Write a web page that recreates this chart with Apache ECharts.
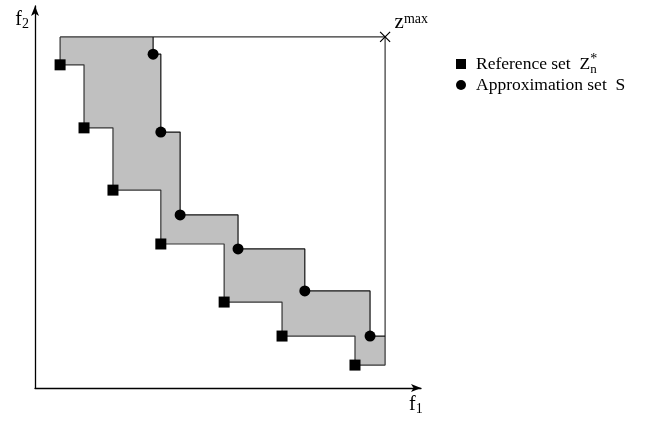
<!DOCTYPE html>
<html><head><meta charset="utf-8">
<script src="https://cdn.jsdelivr.net/npm/echarts@6/dist/echarts.min.js"></script>
<style>html,body{margin:0;padding:0;background:#fff}#c{width:662px;height:423px}</style>
</head><body><div id="c"></div>
<script>
// Reference set Z*_n (f1, f2)
var refX = [0.65, 1.27, 2.02, 3.26, 4.90, 6.40, 8.29];
var refY = [8.46, 6.81, 5.18, 3.77, 2.25, 1.36, 0.60];
// Approximation set S (f1, f2)
var appX = [3.06, 3.26, 3.76, 5.26, 6.99, 8.68];
var appY = [8.74, 6.70, 4.53, 3.64, 2.54, 1.36];
// z max point
var zMax = [9.07, 9.19];

var refPts = refX.map(function (x, i) { return [x, refY[i]]; });
var appPts = appX.map(function (x, i) { return [x, appY[i]]; });

// staircase polylines (step 'end': horizontal first)
var refLine = [[refX[0], zMax[1]]].concat(refPts, [[zMax[0], refY[refY.length - 1]], [zMax[0], zMax[1]], [refX[0], zMax[1]]]);
var appLine = [[appX[0], zMax[1]]].concat(appPts, [[zMax[0], appY[appY.length - 1]]]);

// shaded polygon between both staircases
function stepPts(pts) {
  var out = [];
  for (var i = 0; i < pts.length; i++) {
    if (i > 0) out.push([pts[i][0], pts[i - 1][1]]);
    out.push(pts[i]);
  }
  return out;
}
var lowerB = stepPts(refLine.slice(0, refPts.length + 2));
var upperB = stepPts(appLine).reverse();
var poly = lowerB.concat([[zMax[0], appY[appY.length - 1]]], upperB);

var FONT = 'Liberation Serif';
var chart = echarts.init(document.getElementById('c'), null, {renderer: 'canvas'});
chart.setOption({
  animation: false,
  grid: {left: 35, top: 6, width: 386, height: 382},
  xAxis: {
    type: 'value', min: 0, max: 10,
    axisLine: {lineStyle: {color: '#000', width: 1.3}, symbol: ['none', 'arrow'], symbolSize: [6, 10]},
    axisTick: {show: false}, axisLabel: {show: false}, splitLine: {show: false},
    name: '{m|f}{s|1}', nameLocation: 'end', nameGap: -12,
    nameTextStyle: {align: 'left', verticalAlign: 'top', padding: [6, 0, 0, 0],
      rich: {m: {fontFamily: FONT, fontSize: 20, color: '#000'}, s: {fontFamily: FONT, fontSize: 14, color: '#000', verticalAlign: 'bottom', padding: [8, 0, 0, 0]}}}
  },
  yAxis: {
    type: 'value', min: 0, max: 10,
    axisLine: {lineStyle: {color: '#000', width: 1.3}, symbol: ['none', 'arrow'], symbolSize: [6, 10]},
    axisTick: {show: false}, axisLabel: {show: false}, splitLine: {show: false},
    name: '{m|f}{s|2}', nameLocation: 'end', nameGap: -14,
    nameTextStyle: {align: 'right', verticalAlign: 'middle', padding: [0, 6, 0, 0],
      rich: {m: {fontFamily: FONT, fontSize: 20, color: '#000'}, s: {fontFamily: FONT, fontSize: 14, color: '#000', verticalAlign: 'bottom', padding: [8, 0, 0, 0]}}}
  },
  legend: {
    orient: 'vertical', left: 451, top: 47, itemWidth: 10, itemHeight: 10, itemGap: 0,
    textStyle: {fontFamily: FONT, fontSize: 17.5, color: '#000', padding: [0, 0, 0, 5],
      rich: {t: {fontFamily: FONT, fontSize: 17.5, color: '#000', lineHeight: 24},
             z: {fontFamily: FONT, fontSize: 17.5, color: '#000', lineHeight: 24},
             sup: {fontFamily: FONT, fontSize: 14, color: '#000', verticalAlign: 'top', lineHeight: 14, width: 0.01},
             sub: {fontFamily: FONT, fontSize: 13, color: '#000', verticalAlign: 'bottom', lineHeight: 13, padding: [0, 0, 0, 0]}}},
    formatter: function (n) {
      if (n === 'Reference set') return '{t|Reference set  }{z|Z}{sup|*}{sub|n}';
      return '{t|Approximation set  S}';
    },
    data: [{name: 'Reference set', icon: 'rect'}, {name: 'Approximation set S', icon: 'circle'}]
  },
  series: [
    {type: 'custom', silent: true, z: 1,
     renderItem: function (params, api) {
       return {type: 'polygon', shape: {points: poly.map(function (p) { return api.coord(p); })},
               style: {fill: '#c0c0c0', stroke: 'none'}};
     }, data: [0]},
    {type: 'line', step: 'end', data: refLine, symbol: 'none', z: 2,
     lineStyle: {color: '#333', width: 1.2}},
    {type: 'line', step: 'end', data: appLine, symbol: 'none', z: 2,
     lineStyle: {color: '#111', width: 1.2}},
    {name: 'Reference set', type: 'scatter', data: refPts, symbol: 'rect', symbolSize: 11, z: 3,
     itemStyle: {color: '#000', opacity: 1}},
    {name: 'Approximation set S', type: 'scatter', data: appPts, symbol: 'circle', symbolSize: 11, z: 3,
     itemStyle: {color: '#000', opacity: 1}},
    {type: 'scatter', data: [zMax], symbol: 'path://M0,0L10,10M10,0L0,10', symbolSize: 10, z: 4,
     itemStyle: {color: 'none', borderColor: '#000', borderWidth: 1.2, opacity: 1},
     label: {show: true, position: 'right', distance: 2, offset: [0, -14],
       formatter: '{z|z}{s|max}',
       rich: {z: {fontFamily: FONT, fontSize: 21, color: '#000'}, s: {fontFamily: FONT, fontSize: 14, color: '#000', verticalAlign: 'top', padding: [0, 0, 8, 0]}}}}
  ]
});
</script></body></html>
